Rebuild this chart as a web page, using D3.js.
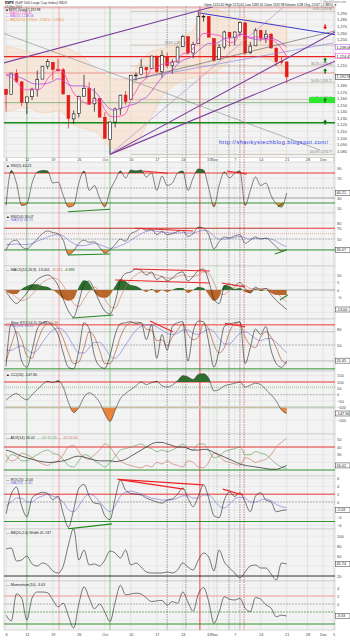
<!DOCTYPE html>
<html>
<head>
<meta charset="utf-8">
<title>$SPX</title>
<script src="https://cdn.jsdelivr.net/npm/d3@7"></script>
<style>
  body { margin: 0; background: #fff; }
  svg text { font-family: 'Liberation Sans', 'DejaVu Sans', sans-serif; }
</style>
</head>
<body>
<svg id="canvas"></svg>
<script>
// Date axis: trading-day index -> label (day 0 = 6-Sep-2011)
var xTickIdx = [0, 4, 9, 14, 19, 24, 29, 34, 39, 40, 44, 49, 54, 58, 61, 63];
var xTickText = ['6', '12', '19', '26', 'Oct', '10', '17', '24', '31', 'Nov', '7', '14', '21', '28', 'Dec', '5'];

// $SPX daily bars
var opens = [1173.97,1165.85,1197.98,1185.37,1153.50,1162.59,1173.32,1189.44,1209.21,1214.99,1204.50,1203.63,1164.55,1128.82,1136.91,1163.32,1175.39,1151.74,1159.93,1131.21,1097.42,1124.03,1144.11,1165.03,1158.15,1194.60,1196.19,1206.96,1205.65,1224.47,1200.75,1223.46,1209.92,1215.39,1238.72,1254.19,1229.17,1243.97,1284.39,1284.96,1251.00,1219.62,1238.25,1260.82,1253.21,1261.12,1275.18,1229.59,1240.12,1263.85,1251.70,1257.81,1236.56,1216.19,1215.62];
var highs = [1173.97,1198.62,1204.40,1185.37,1162.52,1176.41,1202.38,1209.11,1220.06,1214.99,1220.39,1206.30,1164.55,1141.72,1164.19,1195.86,1184.71,1175.87,1159.93,1138.99,1125.12,1146.07,1165.55,1171.40,1194.91,1199.24,1220.25,1207.46,1224.61,1224.47,1233.10,1229.64,1219.36,1239.03,1256.55,1254.19,1246.28,1292.66,1287.08,1284.96,1251.00,1242.48,1263.21,1260.82,1261.70,1277.55,1275.18,1246.22,1266.98,1263.85,1264.25,1259.61,1237.73,1223.51,1215.62];
var lows = [1140.13,1165.85,1183.34,1148.37,1136.07,1157.44,1162.73,1189.44,1204.46,1188.36,1201.29,1166.21,1114.22,1121.36,1131.07,1163.32,1150.40,1139.93,1131.34,1098.92,1074.77,1115.68,1134.95,1150.26,1158.15,1187.30,1196.19,1190.58,1205.65,1198.55,1191.48,1206.31,1197.34,1215.39,1238.72,1226.79,1221.06,1243.97,1277.01,1253.16,1215.42,1219.62,1234.81,1238.92,1240.75,1254.99,1226.64,1227.70,1240.12,1246.68,1244.34,1235.67,1209.43,1211.36,1183.16];
var closes = [1165.85,1198.62,1185.90,1154.23,1162.27,1172.87,1188.68,1209.11,1216.01,1204.09,1202.09,1166.76,1129.56,1136.43,1162.95,1175.38,1151.06,1160.40,1131.42,1099.23,1123.95,1144.03,1164.97,1155.46,1194.89,1195.54,1207.25,1203.66,1224.58,1200.86,1225.38,1209.88,1215.39,1238.25,1254.19,1229.05,1242.00,1284.59,1285.09,1253.30,1218.28,1237.90,1261.15,1253.23,1261.12,1275.92,1229.10,1239.69,1263.85,1251.78,1257.81,1236.91,1216.13,1215.65,1192.98];
var ma5 = [1195,1192,1186,1176,1173,1175,1173,1177,1190,1198,1204,1200,1184,1168,1160,1154,1151,1157,1156,1143,1133,1132,1133,1137,1157,1171,1184,1191,1205,1207,1212,1213,1215,1218,1228,1229,1236,1250,1259,1259,1257,1256,1251,1245,1246,1258,1256,1252,1254,1252,1249,1250,1245,1236,1224];
var ma10 = [1196,1196,1194,1191,1187,1183,1182,1182,1183,1186,1190,1187,1181,1179,1179,1179,1176,1171,1162,1152,1144,1142,1145,1147,1150,1152,1158,1162,1171,1182,1192,1199,1203,1212,1218,1221,1225,1233,1239,1244,1243,1246,1251,1252,1253,1258,1256,1252,1250,1249,1254,1253,1249,1245,1238];
var bandHi = [1240,1238,1236,1234,1232,1230,1228,1226,1228,1232,1236,1238,1236,1232,1228,1222,1214,1206,1200,1196,1192,1190,1188,1190,1196,1206,1218,1226,1232,1234,1236,1238,1240,1246,1254,1258,1264,1278,1290,1296,1296,1294,1290,1286,1282,1284,1284,1280,1278,1276,1276,1274,1272,1272,1274];
var bandLo = [1140,1142,1144,1146,1146,1144,1140,1138,1138,1140,1142,1138,1128,1120,1116,1114,1112,1110,1104,1094,1086,1082,1080,1082,1088,1094,1104,1118,1132,1148,1162,1172,1178,1184,1188,1190,1192,1194,1196,1198,1200,1204,1210,1216,1222,1226,1228,1226,1224,1222,1220,1218,1210,1200,1190];

// Price levels
var resistLevels = [1298, 1223.5, 1198.7];
var supportLevels = [1153.5, 1123];
var fibLevels = [1292.66, 1241.24, 1209.44, 1183.72, 1158.00, 1074.77];
var fibNames = ['0.0%', '23.6%', '38.2%', '50.0%', '61.8%', '100.0%'];

// Price trend lines as [day1, price1, day2, price2]
var channelLines = [[-1.17, 1212.4, 39.8, 1299.7]];
var blueLines = [[37.3, 1290.1, 66.2, 1253.5], [23.85, 1188.0, 62.9, 1244.4]];
var greyLines = [[-1.17, 1261.2, 60.4, 1081.4], [24.4, 1188.0, 65.6, 1267.2]];
var fanLines = [[20, 1074.77, 66.2, 1273.3], [20, 1074.77, 66.2, 1226.1], [20, 1074.77, 55, 1309.9]];
var upArrows = [1218.5, 1201.8, 1157.6, 1124.1];
var downArrows = [1268.8];
var arrowDay = 61.4;
var targetZone = [58.3, 1153, 64.9, 1162];

// Vertical event markers (day index) and their kind
var markerDays = [4, 10.2, 20, 31, 34.6, 37.3, 40.6, 42.9, 45, 45.8];
var markerKinds = ['buy', 'sell', 'buy', 'grey', 'grey', 'sellStrong', 'buyDash', 'grey', 'grey', 'sellDash'];

// Indicators
var rsi5 = [15,85,60,15,18,60,82,85,84,60,62,35,12,15,60,84,45,55,30,12,45,65,84,70,86,84,86,72,80,45,74,55,60,80,84,45,70,88,86,50,12,55,82,70,80,84,15,45,72,55,60,35,18,12,40];
var rsi14 = [30,45,48,36,32,40,50,60,65,62,60,48,21,28,42,48,44,45,35,24,30,40,50,46,60,64,70,66,68,58,64,58,60,64,66,55,60,72,70,58,32,45,54,52,56,58,42,48,54,50,52,45,36,28,30];
var rsiMa = [40,40,41,40,40,42,46,50,54,57,58,56,48,42,38,38,40,42,40,36,33,34,38,42,48,54,60,64,66,64,63,62,61,61,62,61,61,64,66,64,55,50,50,51,53,55,52,50,51,51,51,50,46,40,36];
var macd = [-1,-6,-9,-6,-2,3,7,9,10,8,3,-6,-14,-18,-8,4,6,0,-8,-14,-16,-8,6,11,12,14,13,10,12,7,9,6,8,11,12,6,9,13,14,6,-6,-9,2,4,3,5,1,-2,2,0,1,-3,-7,-10,-13];
var macdSignal = [0,-2,-5,-7,-6,-3,1,5,7,8,7,3,-3,-9,-11,-6,-1,2,-1,-6,-11,-12,-5,2,7,10,12,12,11,10,9,8,8,9,10,9,9,10,12,11,5,-2,-3,0,2,3,3,1,1,1,1,0,-2,-5,-8];
var macdHist = [-0.7,-2.6,-2.6,0.7,2.6,3.9,3.9,2.6,2,0,-2.6,-5.9,-7.2,-5.9,2,6.5,4.6,-1.3,-4.6,-5.2,-3.3,2.6,7.2,5.9,3.3,2.6,0.7,-1.3,0.7,-2,0,-1.3,0,1.3,1.3,-2,0,2,1.3,-3.3,-7.2,-4.6,3.3,2.6,0.7,1.3,-1.3,-2,0.7,-0.7,0,-2,-3.3,-3.3,-3.3];
var stoK = [10,90,70,20,8,40,80,92,94,85,70,35,8,5,40,92,80,30,10,6,30,70,90,92,94,90,92,60,88,25,70,40,85,92,94,20,75,95,94,55,8,40,85,90,92,94,15,45,80,70,85,40,15,8,20];
var stoD = [20,50,75,60,30,25,55,80,90,90,82,62,35,15,18,45,75,65,40,15,15,35,65,85,92,93,92,80,78,58,60,48,65,78,90,70,60,65,90,80,50,35,45,75,90,92,65,50,45,65,75,65,45,22,15];
var stoSlow = [40,40,45,48,42,35,40,55,68,78,82,78,65,48,35,35,45,55,55,45,30,25,35,50,65,78,85,88,88,84,78,72,70,72,78,78,72,70,75,80,75,62,52,52,62,72,75,70,62,58,62,62,55,45,35];
var cci = [-42,-10,10,-20,-40,0,40,80,105,95,110,60,-60,-140,-100,-20,15,-10,-60,-150,-210,-120,-30,10,40,70,100,80,95,105,70,60,75,110,150,140,120,160,165,130,30,40,70,80,90,100,60,75,90,80,40,0,-50,-120,-148];
var adx = [36,34,31,28,26,24,22,21,20,20,21,22,24,27,28,27,25,23,22,22,22,21,22,24,28,32,36,40,44,46,46,44,42,40,40,38,36,36,37,36,33,30,27,24,21,18,16,15,14,13,12,11,11,13,16];
var plusDI = [20,30,28,22,22,26,30,34,36,32,30,24,16,14,22,30,28,22,18,14,20,28,36,38,40,42,44,40,38,34,36,34,36,40,44,38,36,44,44,36,26,28,34,36,38,40,30,30,34,32,30,24,18,14,12];
var minusDI = [30,22,24,32,30,26,22,18,16,20,22,30,40,42,34,26,24,30,36,44,40,30,22,18,16,14,13,16,14,20,18,22,18,16,14,22,20,14,13,20,32,28,22,20,18,16,26,24,20,22,24,30,40,46,52];
var roc = [-3,2,3.8,-1,-3.8,1,2,2.5,2.2,0.6,1.5,-3,-6.5,-2,3.5,4.5,1.5,-0.3,-0.5,-3.5,-4.5,1,5.6,3,2.2,2,1.8,1,0.5,0,-0.3,0.5,0.8,2,3.6,1,-1.2,1.5,4.4,1,-3.5,-4,0.5,2.6,1.4,2.4,0,-2.5,1.5,2.4,0.5,0,-2.5,-2.2,-2];
var rocMa = [-1,0,1,1,0,0,1,1.5,2,1.5,1,0,-2,-2.5,-1,1,2,1.5,0,-1.5,-2.5,-1,1.5,2.5,2.8,2.5,2,1.5,1,0.8,0.5,0.5,0.6,1,1.6,1.6,1,1,1.8,1.8,0.5,-1,-1.5,-0.5,0.8,1.2,1,0,0,0.5,0.8,0.3,-0.6,-1.2,-1.4];
var bbWidth = [74,76,50,52,60,44,40,46,42,30,26,40,82,115,52,72,42,44,40,52,70,66,56,72,42,46,38,28,26,26,26,28,26,32,46,38,32,52,66,58,30,72,48,36,26,16,28,40,42,36,36,24,12,46,44];
var momentum = [-2.8,-4.2,2.5,1.5,-4,1.5,3,3,2.8,1,-0.7,0.2,-3,-6,0,4.3,1.5,-1.2,0,-2,-4.4,0.5,4.7,2.3,2.5,2.7,2.5,1.5,0.6,0.8,0.9,-0.3,0.6,0.2,3,0.5,-1.8,2.5,4.1,0.6,-4.8,-2,1.8,1.2,1,1.4,-1,-1.9,1.6,1.2,-0.2,-1,-3.2,-2.8,-3];

// Divergence lines on the indicators [day1, value1, day2, value2]
var rsi5Red = [[26.35, 84, 31.15, 79.4], [42.5, 84, 46.35, 78]];
var rsi5Green = [[11.9, 2.6, 20, 7.4], [52.3, 12.6, 53.3, 19.4]];
var rsi14Red = [[24.8, 69.9, 36, 64.9]];
var rsi14Green = [[11.9, 20.6, 20, 22.5], [51.7, 22.5, 54, 29.9]];
var macdRed = [[24.4, 14, 39.2, 12.7], [21, 6.7, 39.2, 4.7], [41.5, 4.7, 46, 2]];
var macdGreen = [[12.7, -18.7, 20.6, -16.7], [52.7, -6.7, 54.2, -3.3]];
var stoRed = [[27.7, 95.3, 32.1, 75], [42.1, 91, 46, 84.5]];
var rocRed = [[21.5, 5.8, 37.9, 4.4], [21.5, 5.8, 34.2, 3.3], [41.7, 3.3, 45.6, 1.8]];
var rocGreen = [[11.9, -6.9, 20.4, -5.6]];

// Canvas
var canvasWidth = 350;
var canvasHeight = 640;
var plotLeft = 4;
var plotRight = 335;

var RED = '#ee2222';
var GREEN = '#1f8a1f';
var FILL_GREEN = '#2f6e2f';
var FILL_ORANGE = '#e8853a';

var svg = d3.select('#canvas')
  .attr('width', canvasWidth)
  .attr('height', canvasHeight);

svg.append('rect')
  .attr('width', canvasWidth)
  .attr('height', canvasHeight)
  .attr('fill', '#fff');

var defs = svg.append('defs');
var bgLayer = svg.append('g');
var markerLayer = svg.append('g');
var dataLayer = svg.append('g');
var textLayer = svg.append('g');

var x = d3.scaleLinear()
  .domain([-0.4, 63.3])
  .range([plotLeft, plotRight]);

var clipCount = 0;

function newClip(x0, y0, w, h) {
  var id = 'clip' + (clipCount++);
  defs.append('clipPath').attr('id', id)
    .append('rect')
    .attr('x', x0).attr('y', y0)
    .attr('width', w).attr('height', h);
  return 'url(#' + id + ')';
}

/**
 * Builds one chart panel: background, grid, right axis and a clipped group.
 */
function makePanel(top, bottom, domain, range, ticks, fmt) {
  var y = d3.scaleLinear().domain(domain).range(range);
  var clip = newClip(plotLeft, top, plotRight - plotLeft, bottom - top);

  bgLayer.append('rect')
    .attr('x', plotLeft).attr('y', top)
    .attr('width', plotRight - plotLeft).attr('height', bottom - top)
    .attr('fill', '#f3f3f3')
    .attr('stroke', '#c2c2c2')
    .attr('stroke-width', 0.6);

  var grid = bgLayer.append('g').attr('clip-path', clip);
  grid.selectAll('.vgrid')
    .data(xTickIdx)
    .enter()
    .append('line')
    .attr('x1', function(d) { return x(d); })
    .attr('x2', function(d) { return x(d); })
    .attr('y1', top).attr('y2', bottom)
    .attr('stroke', '#d6d6d6')
    .attr('stroke-width', 0.6);
  grid.selectAll('.hgrid')
    .data(ticks)
    .enter()
    .append('line')
    .attr('x1', plotLeft).attr('x2', plotRight)
    .attr('y1', function(d) { return y(d); })
    .attr('y2', function(d) { return y(d); })
    .attr('stroke', '#dcdcdc')
    .attr('stroke-width', 0.5);

  var axis = d3.axisRight(y)
    .tickValues(ticks)
    .tickSize(0)
    .tickPadding(2)
    .tickFormat(fmt || d3.format('d'));

  var axisG = textLayer.append('g')
    .attr('transform', 'translate(' + plotRight + ',0)')
    .call(axis)
    .call(function(g) {
      g.select('.domain').remove();
      g.selectAll('text').attr('font-size', 4).attr('fill', '#444');
    });

  var g = dataLayer.append('g').attr('clip-path', clip);
  return { y: y, g: g, top: top, bottom: bottom, axisG: axisG };
}

function hLine(p, v, color, width, dash) {
  p.g.append('line')
    .attr('x1', plotLeft).attr('x2', plotRight)
    .attr('y1', p.y(v)).attr('y2', p.y(v))
    .attr('stroke', color)
    .attr('stroke-width', width)
    .attr('stroke-dasharray', dash || null);
}

function plotLine(p, values, color, width) {
  var line = d3.line()
    .x(function(d, i) { return x(i); })
    .y(function(d) { return p.y(d); })
    .curve(d3.curveMonotoneX);
  p.g.append('path')
    .datum(values)
    .attr('d', line)
    .attr('fill', 'none')
    .attr('stroke', color)
    .attr('stroke-width', width);
}

// Shades the part of a series beyond a level
function fillZone(p, values, level, above, color) {
  var ly = p.y(level);
  var clip = above ?
    newClip(plotLeft, p.top, plotRight - plotLeft, ly - p.top) :
    newClip(plotLeft, ly, plotRight - plotLeft, p.bottom - ly);
  var area = d3.area()
    .x(function(d, i) { return x(i); })
    .y0(ly)
    .y1(function(d) { return p.y(d); })
    .curve(d3.curveMonotoneX);
  p.g.append('g')
    .attr('clip-path', clip)
    .append('path')
    .datum(values)
    .attr('d', area)
    .attr('fill', color);
}

function trendLines(p, segs, color, width) {
  p.g.selectAll(null)
    .data(segs)
    .enter()
    .append('line')
    .attr('x1', function(d) { return x(d[0]); })
    .attr('y1', function(d) { return p.y(d[1]); })
    .attr('x2', function(d) { return x(d[2]); })
    .attr('y2', function(d) { return p.y(d[3]); })
    .attr('stroke', color)
    .attr('stroke-width', width);
}

// Legend rows: each row is a list of [text, colour]
function legend(p, rows) {
  rows.forEach(function(row, r) {
    var t = textLayer.append('text')
      .attr('x', plotLeft + 2)
      .attr('y', p.top + 4.6 + r * 3.8)
      .attr('font-size', 3.7);
    row.forEach(function(part) {
      t.append('tspan').attr('fill', part[1]).text(part[0]);
    });
  });
}

// Boxed last value on the right axis; hides the tick labels it would cover
function valueBox(p, v, label, color) {
  var yy = p.y(v);
  p.axisG.selectAll('.tick')
    .filter(function(d) { return Math.abs(p.y(d) - yy) < 5; })
    .remove();
  textLayer.append('rect')
    .attr('x', plotRight + 0.5).attr('y', yy - 2.5)
    .attr('width', 14.5).attr('height', 5)
    .attr('fill', '#fff')
    .attr('stroke', color)
    .attr('stroke-width', 0.5);
  textLayer.append('text')
    .attr('x', plotRight + 1.5).attr('y', yy + 1.4)
    .attr('font-size', 3.8)
    .attr('fill', '#222')
    .text(label);
}

function dateAxis(yPos) {
  var axis = d3.axisBottom(x)
    .tickValues(xTickIdx)
    .tickSize(0)
    .tickPadding(0)
    .tickFormat(function(d, i) { return xTickText[i]; });
  textLayer.append('g')
    .attr('transform', 'translate(0,' + yPos + ')')
    .call(axis)
    .call(function(g) {
      g.select('.domain').remove();
      g.selectAll('text').attr('font-size', 3.8).attr('fill', '#444');
    });
}

// ---------------- Header ----------------
var title = textLayer.append('text').attr('x', 5).attr('y', 4.2).attr('font-size', 3.5);
title.append('tspan').attr('font-weight', 'bold').attr('fill', '#000').text('$SPX ');
title.append('tspan').attr('fill', '#333').text('(S&P 500 Large Cap Index) INDX');
textLayer.append('text').attr('x', 5).attr('y', 7.6).attr('font-size', 3).attr('fill', '#555').text('21-Nov-2011');
textLayer.append('text').attr('x', 346).attr('y', 3).attr('font-size', 3).attr('text-anchor', 'end')
  .attr('fill', '#777').text('© StockCharts.com');
textLayer.append('text').attr('x', 337).attr('y', 6.2).attr('font-size', 3.2).attr('text-anchor', 'end')
  .attr('fill', '#111')
  .text('Open 1215.62 High 1215.62 Low 1183.16 Close 1192.98 Volume 4.2B Chg -22.67 (-1.86%) \u25BC');

// ---------------- Price panel ----------------
var price = makePanel(6.5, 157.5, [1070, 1300], [157.5, 6.5], d3.range(1080, 1300, 10), d3.format(','));

var band = d3.area()
  .x(function(d, i) { return x(i); })
  .y0(function(d, i) { return price.y(bandLo[i]); })
  .y1(function(d) { return price.y(d); })
  .curve(d3.curveMonotoneX);
price.g.append('path')
  .datum(bandHi)
  .attr('d', band)
  .attr('fill', '#f8dcc5')
  .attr('fill-opacity', 0.55)
  .attr('stroke', '#f2c6a4')
  .attr('stroke-width', 0.5);

resistLevels.forEach(function(v, k) {
  hLine(price, v, k === 1 ? '#e82020' : '#f08080', k === 1 ? 1.3 : 0.8);
});
hLine(price, supportLevels[0], '#5aa05a', 0.7);
hLine(price, supportLevels[1], '#138a13', 1.4);

// Fibonacci retracement
price.g.selectAll('.fib')
  .data(fibLevels)
  .enter()
  .append('line')
  .attr('x1', x(24)).attr('x2', plotRight)
  .attr('y1', function(d) { return price.y(d); })
  .attr('y2', function(d) { return price.y(d); })
  .attr('stroke', '#b8a690')
  .attr('stroke-width', 0.6);
price.g.selectAll('.fibText')
  .data(fibLevels)
  .enter()
  .append('text')
  .attr('x', function(d, i) { return i === 1 ? x(30.5) : plotRight - 3; })
  .attr('y', function(d) { return price.y(d) - 1; })
  .attr('text-anchor', function(d, i) { return i === 1 ? 'start' : 'end'; })
  .attr('font-size', 3)
  .attr('fill', '#777')
  .text(function(d, i) { return fibNames[i] + '  ' + d3.format(',.2f')(d); });

// Target zone
price.g.append('rect')
  .attr('x', x(targetZone[0]))
  .attr('y', price.y(targetZone[3]))
  .attr('width', x(targetZone[2]) - x(targetZone[0]))
  .attr('height', price.y(targetZone[1]) - price.y(targetZone[3]))
  .attr('fill', '#2ee82e');

// Candles
function candleColor(i) {
  var prev = i === 0 ? opens[0] : closes[i - 1];
  return closes[i] < prev ? '#e21b1b' : '#111';
}

var candles = price.g.selectAll('.candle')
  .data(closes)
  .enter()
  .append('g');

candles.append('line')
  .attr('x1', function(d, i) { return x(i); })
  .attr('x2', function(d, i) { return x(i); })
  .attr('y1', function(d, i) { return price.y(highs[i]); })
  .attr('y2', function(d, i) { return price.y(lows[i]); })
  .attr('stroke', function(d, i) { return candleColor(i); })
  .attr('stroke-width', 0.7);

candles.append('rect')
  .attr('x', function(d, i) { return x(i) - 1.4; })
  .attr('width', 2.8)
  .attr('y', function(d, i) { return price.y(Math.max(opens[i], d)); })
  .attr('height', function(d, i) { return Math.max(0.7, Math.abs(price.y(opens[i]) - price.y(d))); })
  .attr('fill', function(d, i) { return d > opens[i] ? '#fff' : candleColor(i); })
  .attr('stroke', function(d, i) { return candleColor(i); })
  .attr('stroke-width', 0.6);

plotLine(price, ma5, '#ff3fc0', 0.8);
plotLine(price, ma10, '#b24be0', 0.8);

trendLines(price, channelLines, '#7d3f9e', 1.1);
trendLines(price, blueLines.slice(0, 1), '#3a3ad0', 1);
trendLines(price, blueLines.slice(1), '#7a7ae8', 0.6);
trendLines(price, greyLines.slice(0, 1), '#8a8a8a', 0.6);
trendLines(price, greyLines.slice(1), '#555', 0.6);
trendLines(price, fanLines.slice(0, 2), '#7d3f9e', 1.1);
trendLines(price, fanLines.slice(2), '#b07fc8', 0.6);

// Arrows
function arrow(v, up, color) {
  var cx = x(arrowDay);
  var cy = price.y(v);
  var path = up ?
    'M' + (cx - 2) + ',' + cy + 'L' + cx + ',' + (cy - 2.6) + 'L' + (cx + 2) + ',' + cy + 'Z' +
    'M' + (cx - 0.8) + ',' + cy + 'h1.6v2.6h-1.6Z' :
    'M' + (cx - 2) + ',' + cy + 'L' + cx + ',' + (cy + 2.6) + 'L' + (cx + 2) + ',' + cy + 'Z' +
    'M' + (cx - 0.8) + ',' + cy + 'h1.6v-2.6h-1.6Z';
  price.g.append('path').attr('d', path).attr('fill', color);
}
upArrows.forEach(function(v) { arrow(v, true, '#137a13'); });
downArrows.forEach(function(v) { arrow(v, false, '#ee1111'); });

textLayer.append('text')
  .attr('x', 219).attr('y', 143.5)
  .attr('font-size', 5.6)
  .attr('fill', '#2a35e0')
  .attr('textLength', 109)
  .text('http://shankystechblog.blogspot.com/');

var priceLegend = textLayer.append('g');
[
  ['\u25A0 $SPX (Daily) 1,192.98', '#111'],
  ['\u2014 MA(5) 1,224.41', '#ff3fc0'],
  ['\u2014 MA(10) 1,238.06', '#b24be0'],
  ['\u2014 BB(20,2.0) 1,190.0 - 1,232.0 - 1,274.0', '#f08a24']
].forEach(function(row, r) {
  priceLegend.append('text')
    .attr('x', plotLeft + 2)
    .attr('y', 10.6 + r * 3.3)
    .attr('font-size', 3.2)
    .attr('fill', row[1])
    .text(row[0]);
});

valueBox(price, 1238.06, '1,238.06', '#b24be0');
valueBox(price, 1224.41, '1,224.41', '#ff3fc0');
valueBox(price, 1192.98, '1,192.98', '#111');

dateAxis(158.2);

// ---------------- RSI(5) ----------------
var p1 = makePanel(162, 213, [0, 100], [213, 163], [10, 30, 50, 70, 90]);
hLine(p1, 80, RED, 0.9);
hLine(p1, 50, '#999', 0.6, '2,1');
hLine(p1, 30, '#888', 0.7);
hLine(p1, 20, GREEN, 0.9);
fillZone(p1, rsi5, 80, true, FILL_GREEN);
fillZone(p1, rsi5, 20, false, FILL_ORANGE);
plotLine(p1, rsi5, '#333', 0.6);
trendLines(p1, rsi5Red, RED, 1.1);
trendLines(p1, rsi5Green, GREEN, 1.1);
legend(p1, [[['\u25B2 RSI(5) 40.21', '#222']]]);
valueBox(p1, 40.21, '40.21', '#333');

// ---------------- RSI(14) ----------------
var p2 = makePanel(213, 266, [0, 100], [266.2, 211.95], [30, 50, 70, 80]);
hLine(p2, 70, RED, 0.9);
hLine(p2, 60, '#f07070', 0.6, '1,1');
hLine(p2, 50, '#999', 0.6, '2,1');
hLine(p2, 30, GREEN, 0.9);
fillZone(p2, rsi14, 70, true, FILL_GREEN);
fillZone(p2, rsi14, 30, false, FILL_ORANGE);
plotLine(p2, rsiMa, '#6f6fd6', 0.6);
plotLine(p2, rsi14, '#333', 0.6);
trendLines(p2, rsi14Red, RED, 1.1);
trendLines(p2, rsi14Green, GREEN, 1.1);
legend(p2, [[['\u25B2 RSI(14) 30.07', '#222']], [['\u2014 MA(10) 36.15', '#6f6fd6']]]);
valueBox(p2, 30.07, '30.07', '#333');

// ---------------- MACD ----------------
var p3 = makePanel(266, 319, [-20, 10], [320, 275], [-15, -10, -5, 0, 5, 10]);
hLine(p3, 0, '#888', 0.6);
fillZone(p3, macdHist, 0, true, FILL_GREEN);
fillZone(p3, macdHist, 0, false, '#b8672a');
plotLine(p3, macdSignal, '#d0705a', 0.6);
plotLine(p3, macd, '#222', 0.6);
trendLines(p3, macdRed, RED, 1.1);
trendLines(p3, macdGreen, GREEN, 1.1);
legend(p3, [[['\u2014 MACD(12,26,9) -13.001', '#222'], [', -8.113', '#d0705a'], [', -4.888', '#2f6e2f']]]);
valueBox(p3, -13, '-13.00', '#333');

// ---------------- Slow Stochastics ----------------
var p4 = makePanel(319, 371, [0, 100], [371.5, 318.5], [20, 50, 80]);
hLine(p4, 88, RED, 0.9);
hLine(p4, 75, '#aaa', 0.6);
hLine(p4, 50, '#999', 0.6, '2,1');
hLine(p4, 20, '#aaa', 0.6);
hLine(p4, 5, GREEN, 0.9);
plotLine(p4, stoSlow, '#6f6fd6', 0.6);
plotLine(p4, stoD, '#b25a3a', 0.7);
plotLine(p4, stoK, '#222', 0.6);
trendLines(p4, stoRed, RED, 1.1);
legend(p4, [[['\u2014 Slow STO(14,3) 20.45', '#222'], [', 15.36', '#b25a3a']], [['\u2014 %D(39) 35.02', '#6f6fd6']]]);
valueBox(p4, 20.45, '20.45', '#333');

// ---------------- CCI ----------------
var p5 = makePanel(371, 434, [0, 100], [394.7, 382], [150, 100, 50, 0, -50, -100, -200]);
hLine(p5, 100, RED, 0.9);
hLine(p5, 60, '#5aa05a', 0.6, '1,1');
hLine(p5, 0, '#999', 0.6, '2,1');
hLine(p5, -100, '#c3cfc3', 2.4);
fillZone(p5, cci, 100, true, FILL_GREEN);
fillZone(p5, cci, -100, false, FILL_ORANGE);
plotLine(p5, cci, '#333', 0.6);
legend(p5, [[['\u25B2 CCI(20) -147.90', '#222']]]);
valueBox(p5, -147.9, '-147.90', '#333');

// ---------------- ADX ----------------
var p6 = makePanel(434, 476, [0, 50], [477.7, 439.35], [10, 20, 30, 40, 50]);
hLine(p6, 40, RED, 0.9);
hLine(p6, 10, GREEN, 0.9);
plotLine(p6, plusDI, '#4f9a4f', 0.6);
plotLine(p6, minusDI, '#c56a50', 0.6);
plotLine(p6, adx, '#222', 0.7);
legend(p6, [[['\u2014 ADX(14) 16.02 ', '#222'], ['\u2014 +DI 12.05 ', '#4f9a4f'], ['\u2014 -DI 52.00', '#c56a50']]]);
valueBox(p6, 16, '16.02', '#333');

// ---------------- ROC ----------------
var p7 = makePanel(476, 529, [0, 1], [502, 498.1], [-6, -4, -2, 0, 2, 4, 6]);
hLine(p7, 2, RED, 0.9);
hLine(p7, 0, '#888', 0.6, '2,1');
hLine(p7, -5, GREEN, 0.9);
plotLine(p7, rocMa, '#6f6fd6', 0.6);
plotLine(p7, roc, '#222', 0.6);
trendLines(p7, rocRed, RED, 1.1);
trendLines(p7, rocGreen, GREEN, 1.1);
legend(p7, [[['\u2014 ROC(5) -2.03', '#222']], [['\u2014 MA(10) -1.40', '#6f6fd6']]]);
valueBox(p7, -2.03, '-2.03', '#333');

// ---------------- BB Width ----------------
var p8 = makePanel(529, 581, [20, 100], [576, 536], [20, 40, 60, 80, 100]);
hLine(p8, 20, '#222', 0.9);
plotLine(p8, bbWidth, '#222', 0.6);
legend(p8, [[['\u2014 BB(20,2.0) Width 41.747', '#222']]]);
valueBox(p8, 44, '41.74', '#333');

// ---------------- Momentum ----------------
var p9 = makePanel(581, 630, [0, 1], [604, 600], [-4, -2, 0, 2, 4]);
hLine(p9, 2, '#f2a0a0', 1.2);
hLine(p9, 0, '#999', 0.6, '2,1');
hLine(p9, -2, '#4f9a4f', 0.7, '2,1');
hLine(p9, -5, GREEN, 0.9);
plotLine(p9, momentum, '#222', 0.6);
legend(p9, [[['\u2014 Momentum(10) -3.03', '#222']]]);
valueBox(p9, -3, '-3.03', '#333');

dateAxis(633.5);

// ---------------- Event markers across all panels ----------------
var markerStyle = {
  buy: ['#8cc68c', null, 1],
  sell: ['#f4a2a2', null, 0.9],
  grey: ['#777', '1.5,1', 0.7],
  sellStrong: ['#ee3030', null, 0.9],
  buyDash: ['#a6d8a6', '1.5,1', 0.9],
  sellDash: ['#ee5050', '1.5,1', 0.8]
};

markerLayer.selectAll('.marker')
  .data(markerDays)
  .enter()
  .append('line')
  .attr('x1', function(d) { return x(d); })
  .attr('x2', function(d) { return x(d); })
  .attr('y1', 6.5)
  .attr('y2', 630)
  .attr('stroke', function(d, i) { return markerStyle[markerKinds[i]][0]; })
  .attr('stroke-dasharray', function(d, i) { return markerStyle[markerKinds[i]][1]; })
  .attr('stroke-width', function(d, i) { return markerStyle[markerKinds[i]][2]; });
</script>
</body>
</html>
